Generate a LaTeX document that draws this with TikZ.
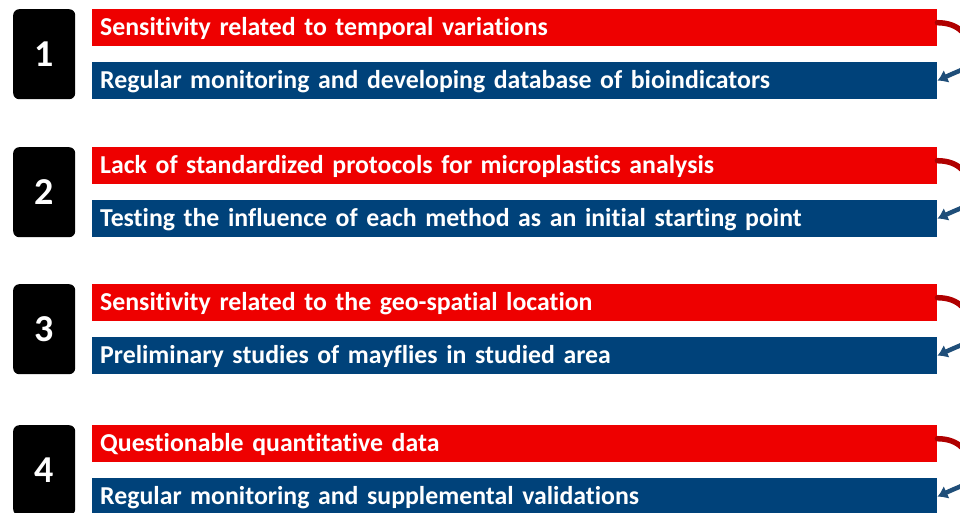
\documentclass[tikz,border=0pt]{standalone}
\usepackage{fontspec}
\setmainfont{Carlito}[Ligatures=NoCommon]
\usetikzlibrary{arrows.meta,calc}
\definecolor{problemred}{HTML}{EE0000}
\definecolor{solutionblue}{HTML}{00427A}
\definecolor{arcred}{HTML}{B00000}
\definecolor{arcblue}{HTML}{1F4E79}

\begin{document}
\begin{tikzpicture}[
  x={(1pt,0pt)},
  y={(0pt,-1pt)},
  line cap=round,
  numbox/.style={fill=black,rounded corners=6pt,minimum width=62pt,minimum height=90pt,
    inner sep=0pt,anchor=north west,text=white,font=\bfseries\fontsize{38}{40}\selectfont},
  bar/.style={minimum width=845pt,minimum height=37pt,inner xsep=8pt,inner ysep=0pt,
    anchor=north west,text width=829pt,align=left,text=white,text height=18pt,text depth=2pt,
    font=\bfseries\fontsize{25.8}{28}\selectfont},
  problem/.style={bar,fill=problemred},
  solution/.style={bar,fill=solutionblue},
  probarc/.style={draw=arcred,line width=5.5pt},
  solarc/.style={draw=arcblue,line width=4.5pt,line cap=butt,-{Latex[length=10pt,width=14pt]}}
]
  \useasboundingbox (0,0) rectangle (960,512);
  \clip (0,0) rectangle (960,512);

  % One row per issue: number, problem above, answer below.
  \foreach \n/\ytop/\prob/\sol in {
    1/9/{Sensitivity related to temporal variations}/{Regular monitoring and developing database of bioindicators},
    2/147/{Lack of standardized protocols for microplastics analysis}/{Testing the influence of each method as an initial starting point},
    3/284/{Sensitivity related to the geo-spatial location}/{Preliminary studies of mayflies in studied area},
    4/425/{Questionable quantitative data}/{Regular monitoring and supplemental validations}} {
    \node[numbox] (num\n) at (13,\ytop) {\n};
    \node[problem] (prob\n) at (92,\ytop) {\prob};
    \node[solution] (sol\n) at (92,\ytop+53) {\sol};

    % Curved link from problem to answer, leaving the picture on the right.
    \coordinate (turn\n) at ($(prob\n.east)!0.5!(sol\n.east)+(33,0)$);
    \draw[probarc] ([yshift=5pt]prob\n.east) .. controls +(22,0) and +(0,-18) .. (turn\n);
    \draw[solarc] (turn\n) .. controls +(0,15) and +(30,-14) .. (sol\n.east);
  }
\end{tikzpicture}
\end{document}
